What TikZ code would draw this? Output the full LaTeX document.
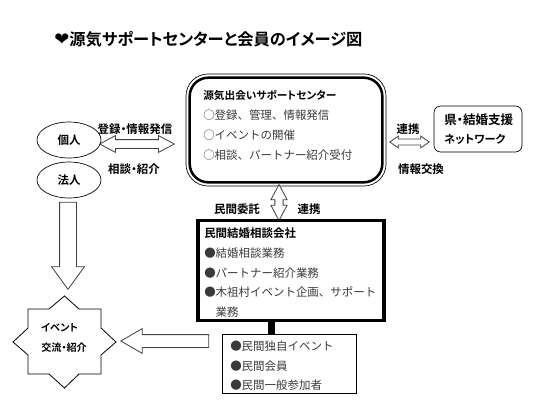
\documentclass[tikz,border=0pt]{standalone}
\usepackage{fontspec}
\setmainfont{Noto Sans CJK JP}[BoldFont={Noto Sans CJK JP Bold},BoldFeatures={RawFeature=+palt}]
\newfontfamily\heartfont{DejaVu Sans}
\usetikzlibrary{shapes.geometric, shapes.arrows, calc}
\definecolor{BodyT}{HTML}{3A3A3A}
\definecolor{ArrL} {HTML}{404040}
\tikzset{
  ttl/.style={
    font=\fontsize{12.2}{14}\selectfont\bfseries, anchor=west, inner sep=0pt,
  },
  lbl/.style={
    font=\fontsize{8.6}{10}\selectfont\bfseries, inner sep=0pt,
  },
  bdy/.style={
    font=\fontsize{8.6}{14.7}\selectfont, text=BodyT, align=left,
    anchor=north west, inner sep=0pt,
  },
  evt/.style={
    font=\fontsize{7.6}{15}\selectfont\bfseries, align=left,
    anchor=west, inner sep=0pt,
  },
  psn/.style={
    ellipse, draw=black, line width=0.5pt, inner sep=0pt,
    minimum width=48pt, minimum height=27pt,
    font=\fontsize{8.6}{10}\selectfont\bfseries,
  },
  frm/.style args={#1/#2}{
    rectangle, draw=black, line width=#1, inner sep=0pt, rounded corners=#2,
  },
  sarr/.style={
    single arrow, draw=ArrL, fill=white, line width=0.6pt, inner xsep=0pt,
  },
  darr/.style={
    double arrow, draw=ArrL, fill=white, line width=0.6pt, inner xsep=0pt,
  },
}
\begin{document}
\begin{tikzpicture}[x=0.75pt,y=-0.75pt]
    \useasboundingbox (0,0) rectangle (534,408);
    \node[ttl] (title) at (54,39) {{\heartfont\fontsize{13.5}{14}\selectfont ❤}源気サポートセンターと会員のイメージ図};

    % supporting centre
    \node[frm=0.5pt/16.5pt,minimum width=150pt,minimum height=84pt] (supout) at (286,130) {};
    \node[frm=1.9pt/14pt,minimum width=144.5pt,minimum height=78.5pt] (sup) at (286,130) {};
    \node[lbl,anchor=west,font=\fontsize{8}{10}\selectfont\bfseries] (suphd) at (203,95) {源気出会いサポートセンター};
    \node[bdy] (suptxt) at (203,110)
      {○登録、管理、情報発信\\○イベントの開催\\○相談、パートナー紹介受付};

    % members on the left
    \node[psn] (kojin) at (69,140) {個人};
    \node[psn] (hojin) at (69,180) {法人};
    \node[lbl] (reglbl) at (135,129) {登録・情報発信};
    \node[lbl] (conlbl) at (134,169) {相談・紹介};
    \node[darr,minimum height=56pt,inner ysep=3pt,double arrow head extend=3pt,
          double arrow tip angle=56] (regarr) at (137,144) {};

    % network on the right
    \node[frm=0.5pt/5pt,minimum width=66pt,minimum height=34.5pt] (net) at (478,129) {};
    \node[lbl,anchor=west,font=\fontsize{9.4}{10}\selectfont\bfseries] (netone) at (444,120) {県・結婚支援};
    \node[lbl,anchor=west,font=\fontsize{8.4}{10}\selectfont\bfseries] (nettwo) at (444,139) {ネットワーク};
    \node[lbl] (renlbl) at (408,129) {連携};
    \node[lbl] (joblbl) at (421,169) {情報交換};
    \node[darr,minimum height=29.5pt,inner ysep=1.9pt,double arrow head extend=2.2pt,
          double arrow tip angle=70] (renarr) at (409.5,142) {};

    % company
    \node[darr,rotate=90,minimum height=27pt,inner ysep=2.8pt,double arrow head extend=3pt,
          double arrow tip angle=56] (comarr) at (279,202.5) {};
    \node[lbl] (itklbl) at (237,209) {民間委託};
    \node[lbl] (tielbl) at (309,209) {連携};
    \node[frm=2.8pt/0pt,minimum width=140pt,minimum height=75pt] (com) at (291,270.5) {};
    \node[lbl,anchor=west] (comhd) at (204,233) {民間結婚相談会社};
    \node[bdy] (comtxt) at (204,247.5)
      {●結婚相談業務\\●パートナー紹介業務\\●木祖村イベント企画、サポート\\　業務};

    % general members
    \node[frm=0.5pt/0pt,minimum width=100.5pt,minimum height=44pt] (mem) at (289,363.5) {};
    \node[bdy] (memtxt) at (230,340.5) {●民間独自イベント\\●民間会員\\●民間一般参加者};
    \coordinate (lnk) at (271.5,322);
    \draw[line width=5.2pt] (lnk |- com.south) -- (lnk |- mem.north);

    % event star
    \draw[line width=0.6pt] (13,342) -- (28,328) -- (28,309) -- (49,309) -- (64.5,296)
      -- (79,309) -- (101,309) -- (101,328) -- (116,342) -- (101,355) -- (101,374)
      -- (79,374) -- (64.5,388) -- (49,374) -- (28,374) -- (28,355) -- cycle;
    \node[evt] (evtone) at (41,328) {イベント};
    \node[evt] (evttwo) at (41,348) {交流・紹介};
    \node[sarr,rotate=-90,anchor=tip,minimum height=65.25pt,inner ysep=6pt,single arrow head extend=6pt,
          single arrow tip angle=72] (dwnarr) at (68,290) {};
    \node[sarr,rotate=180,anchor=tip,minimum height=66pt,inner ysep=4.5pt,single arrow head extend=4.5pt,
          single arrow tip angle=60] (lftarr) at (120,341) {};
  \end{tikzpicture}
\end{document}
